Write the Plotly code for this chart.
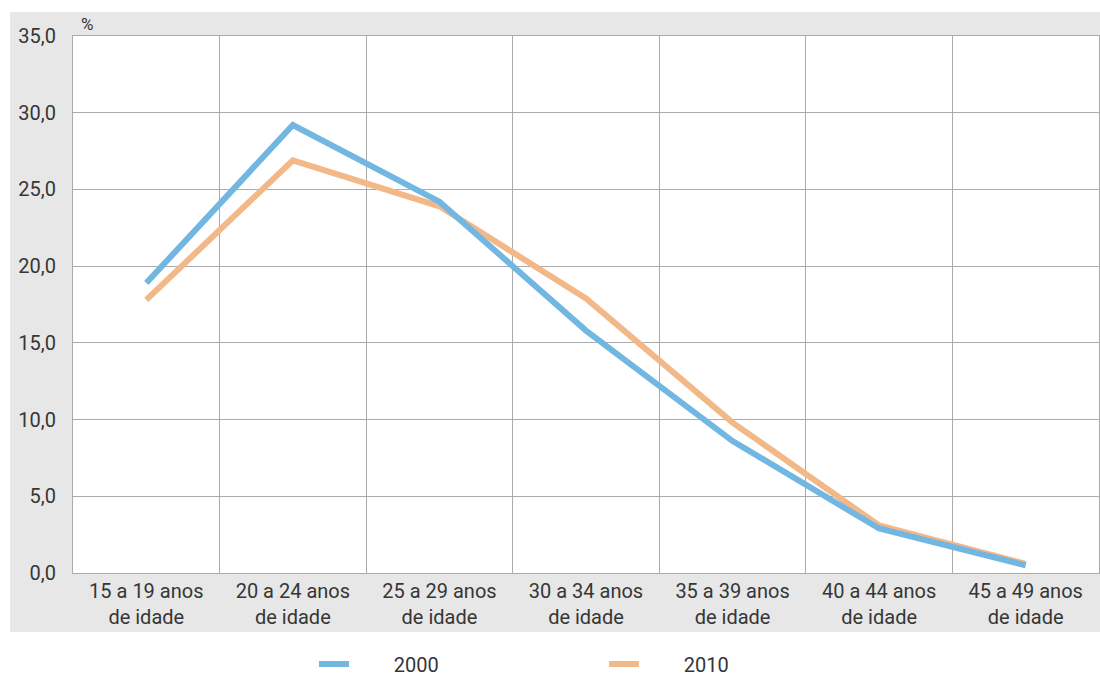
import plotly.graph_objects as go

categories = ["15 a 19 anos<br>de idade", "20 a 24 anos<br>de idade", "25 a 29 anos<br>de idade",
              "30 a 34 anos<br>de idade", "35 a 39 anos<br>de idade", "40 a 44 anos<br>de idade",
              "45 a 49 anos<br>de idade"]
values_2000 = [18.9, 29.2, 24.2, 15.8, 8.6, 2.9, 0.5]
values_2010 = [17.8, 26.9, 23.9, 17.9, 9.8, 3.1, 0.6]
series_names = ["2000", "2010"]
y_ticks = [0, 5, 10, 15, 20, 25, 30, 35]

BLUE = "#72b6e2"
ORANGE = "#f3b888"
GRID = "#ababab"
TXT = "#363636"
FONT = "Roboto"
FS = 20

xpos = [i + 0.5 for i in range(len(categories))]
pad = "\u00a0" * 8

fig = go.Figure()
fig.add_trace(go.Scatter(x=xpos, y=values_2010, mode="lines", name=pad + series_names[1],
                         line=dict(color=ORANGE, width=6)))
fig.add_trace(go.Scatter(x=xpos, y=values_2000, mode="lines", name=pad + series_names[0],
                         line=dict(color=BLUE, width=6)))

L, R, T, B = 73, 1, 36, 104
W, H = 1100, 677
pw, ph = W - L - R, H - T - B

def px_x(x):
    return (x - L) / pw

def px_y(y):
    return (H - B - y) / ph

fig.update_layout(
    width=W, height=H, autosize=False,
    margin=dict(l=L, r=R, t=T, b=B, autoexpand=False),
    paper_bgcolor="white",
    plot_bgcolor="white",
    separators=",.",
    font=dict(family=FONT, size=FS, color=TXT),
    showlegend=True,
    legend=dict(orientation="h", x=px_x(314), xanchor="left", y=px_y(664), yanchor="middle",
                entrywidth=245, entrywidthmode="pixels", traceorder="reversed",
                font=dict(family=FONT, size=FS, color=TXT), bgcolor="rgba(0,0,0,0)"),
    shapes=[
        dict(type="rect", xref="paper", yref="paper", x0=px_x(10), x1=px_x(1105),
             y0=px_y(632), y1=px_y(12), fillcolor="#e7e7e7", line=dict(width=0), layer="below"),
        dict(type="rect", xref="paper", yref="paper", x0=0, x1=1, y0=0, y1=1,
             fillcolor="white", line=dict(width=0), layer="below"),
    ],
    annotations=[
        dict(text="%", xref="paper", yref="paper", x=px_x(79), y=px_y(24), xanchor="left",
             yanchor="middle", showarrow=False, font=dict(family=FONT, size=17, color=TXT)),
    ],
)

fig.update_xaxes(
    range=[0, len(categories)],
    tickmode="array", tickvals=xpos, ticktext=categories,
    showgrid=False, zeroline=False,
    showline=True, linecolor=GRID, linewidth=1, mirror=True,
    ticks="", tickfont=dict(family=FONT, size=FS, color=TXT),
    minor=dict(tickmode="array", tickvals=list(range(len(categories) + 1)),
               showgrid=True, gridcolor=GRID, gridwidth=1, ticks=""),
    fixedrange=True,
)
fig.update_yaxes(
    range=[0, 35],
    tickmode="array", tickvals=y_ticks, tickformat=".1f",
    showgrid=True, gridcolor=GRID, gridwidth=1, zeroline=False,
    showline=True, linecolor=GRID, linewidth=1, mirror=True,
    ticks="", ticklabelstandoff=12, tickfont=dict(family=FONT, size=FS, color=TXT),
    fixedrange=True,
)

fig.write_html(
    "out.html",
    config={"displayModeBar": False, "responsive": False},
    post_script=("document.body.style.margin='0px';"
                 "document.body.style.overflow='hidden';"
                 "document.documentElement.style.overflow='hidden';"),
)
